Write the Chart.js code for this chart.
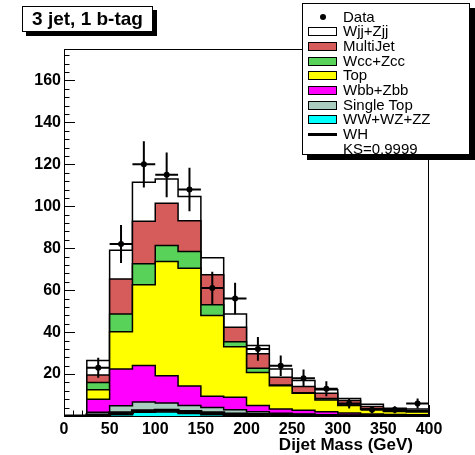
<!DOCTYPE html>
<html>
<head>
<meta charset="utf-8">
<script src="https://cdn.jsdelivr.net/npm/chart.js@4.4.0/dist/chart.umd.min.js"></script>
<style>
  html, body { margin: 0; padding: 0; background: #fff; }
  #wrap { position: relative; width: 475px; height: 455px; font-family: "Liberation Sans", Arial, Helvetica, sans-serif; color: #000; }
  #c { position: absolute; left: 0; top: 0; }
  #title { position: absolute; left: 22px; top: 6px; width: 129px; height: 24px; border: 1px solid #000; background: #fff;
           box-shadow: 4px 4px 0 #000; font-weight: bold; font-size: 19px; line-height: 24px; text-align: center; white-space: nowrap; }
  #legend { position: absolute; left: 302px; top: 3px; width: 166px; height: 150px; border: 1px solid #000; background: #fff;
            box-shadow: 5px 5px 0 #000; }
  .sw { position: absolute; box-sizing: border-box; }
  .lt { position: absolute; left: 40px; font-size: 15px; line-height: 16px; white-space: nowrap; }
</style>
</head>
<body>
<div id="wrap">
  <canvas id="c" width="475" height="455"></canvas>
  <div id="title">3 jet, 1 b-tag</div>
  <div id="legend"></div>
</div>
<script>
// Dijet mass bins (lower edges, GeV) and bin width
const binLow = [0, 25, 50, 75, 100, 125, 150, 175, 200, 225, 250, 275, 300, 325, 350, 375];
const binWidth = 25;

// Expected events per bin for each process
const wjjZjj    = [0, 7.0, 13.7, 18.6, 11.5, 11.6, 8.2, 6.3, 3.9, 3.9, 2.8, 1.7, 1.0, 1.1, 0.7, 0.7];
const multiJet  = [0, 3.5, 16.7, 20.3, 20.2, 14.7, 14.3, 6.9, 6.9, 3.7, 3.0, 2.5, 2.1, 1.0, 0.6, 0.5];
const wccZcc    = [0, 3.5, 8.4, 10.0, 7.6, 7.9, 5.1, 2.4, 2.0, 0.4, 0.3, 0.7, 0.3, 0.3, 0.2, 0.2];
const topQuark  = [0, 4.5, 17.8, 38.5, 54.5, 56.2, 38.5, 24.0, 15.8, 11.1, 8.0, 5.6, 3.6, 2.2, 1.5, 1.3];
const wbbZbb    = [0, 6.2, 17.5, 17.4, 13.0, 9.3, 5.4, 6.0, 3.0, 2.0, 1.9, 1.4, 1.0, 0.7, 0.5, 0.4];
const singleTop = [0, 1.6, 4.3, 4.9, 4.3, 3.8, 3.4, 2.6, 1.7, 1.1, 0.8, 0.5, 0.3, 0.25, 0.15, 0.15];
const diboson   = [0, 0.2, 0.6, 1.8, 1.9, 1.2, 0.6, 0.4, 0.3, 0.2, 0.1, 0.1, 0.1, 0.05, 0.05, 0.05];
const whSignal  = [0, 0.5, 1.5, 2.5, 2.8, 2.2, 1.5, 1.0, 0.7, 0.5, 0.3, 0.2, 0.1, 0.1, 0.1, 0.1];

// Observed events and their uncertainties (first bin empty)
const dataCounts = [null, 23, 82, 120, 115, 108, 61, 56, 32, 24, 18, 13, 6, 3, 3, 6];
const dataErrors = [null, 4.8, 9.1, 11.0, 10.7, 10.4, 7.8, 7.5, 5.7, 4.9, 4.2, 3.6, 2.4, 1.7, 1.7, 2.4];

// Axis ticks
const xTickStep = 50;
const yTickStep = 20;
const ksLabel = 'KS=0.9999';

// Stack from bottom to top
const layers = [
  { label: 'WW+WZ+ZZ',   values: diboson,   color: '#00ffff' },
  { label: 'Single Top', values: singleTop, color: '#a9cdbf' },
  { label: 'Wbb+Zbb',    values: wbbZbb,    color: '#ff00ff' },
  { label: 'Top',        values: topQuark,  color: '#ffff00' },
  { label: 'Wcc+Zcc',    values: wccZcc,    color: '#58d258' },
  { label: 'MultiJet',   values: multiJet,  color: '#d65b5b' },
  { label: 'Wjj+Zjj',    values: wjjZjj,    color: '#ffffff' }
];

// Histogram outline: one point per lower edge, closed at the upper edge
function stepPoints(values) {
  const pts = values.map((v, i) => ({ x: binLow[i], y: v }));
  pts.push({ x: binLow[binLow.length - 1] + binWidth, y: 0 });
  return pts;
}

let running = binLow.map(() => 0);
const stackSets = layers.map((layer, k) => {
  running = running.map((s, i) => s + layer.values[i]);
  return {
    type: 'line', label: layer.label, data: stepPoints(running), stepped: 'before',
    fill: 'origin', backgroundColor: layer.color, borderColor: '#000', borderWidth: 1.5,
    pointRadius: 0, order: 2 + k
  };
});

const whSet = {
  type: 'line', label: 'WH', data: stepPoints(whSignal), stepped: 'before', fill: false,
  borderColor: '#000', borderWidth: 3, pointRadius: 0, order: 1
};

const dataSet = {
  type: 'scatter', label: 'Data',
  data: dataCounts.map((v, i) => v == null ? null : { x: binLow[i] + binWidth / 2, y: v, err: dataErrors[i] })
                  .filter(p => p !== null),
  pointRadius: 3, pointHoverRadius: 3, backgroundColor: '#000', borderColor: '#000', borderWidth: 0,
  showLine: false, order: 0
};

// Inner tick marks, frame, error bars and axis title
const histDecor = {
  id: 'histDecor',
  beforeDatasetsDraw(chart) {
    const { ctx, chartArea: a, scales: { x, y } } = chart;
    ctx.save();
    ctx.strokeStyle = '#000';
    ctx.lineWidth = 1;
    ctx.beginPath();
    for (let v = 0; v <= y.max; v += 4) {
      const py = Math.round(y.getPixelForValue(v)) + 0.5;
      const len = v % yTickStep === 0 ? 11 : 5.5;
      ctx.moveTo(a.left, py); ctx.lineTo(a.left + len, py);
    }
    for (let v = 0; v <= x.max; v += 10) {
      const px = Math.round(x.getPixelForValue(v)) + 0.5;
      const len = v % xTickStep === 0 ? 11 : 5.5;
      ctx.moveTo(px, a.bottom); ctx.lineTo(px, a.bottom - len);
    }
    ctx.stroke();
    ctx.restore();
  },
  afterDatasetsDraw(chart) {
    const { ctx, chartArea: a, scales: { x, y } } = chart;
    ctx.save();
    ctx.strokeStyle = '#000';
    ctx.lineWidth = 1;
    ctx.strokeRect(a.left + 0.5, a.top + 0.5, a.right - a.left - 1, a.bottom - a.top);
    // error bars
    const ds = chart.data.datasets.find(d => d.label === 'Data');
    ctx.lineWidth = 2;
    ctx.beginPath();
    ds.data.forEach(p => {
      const px = x.getPixelForValue(p.x), py = y.getPixelForValue(p.y);
      ctx.moveTo(px, y.getPixelForValue(p.y - p.err));
      ctx.lineTo(px, y.getPixelForValue(p.y + p.err));
      ctx.moveTo(x.getPixelForValue(p.x - binWidth / 2), py);
      ctx.lineTo(x.getPixelForValue(p.x + binWidth / 2), py);
    });
    ctx.stroke();
    ctx.restore();
  },
  afterDraw(chart) {
    const { ctx, chartArea: a } = chart;
    ctx.save();
    ctx.fillStyle = '#000';
    ctx.font = 'bold 17px "Liberation Sans", Arial, sans-serif';
    ctx.textAlign = 'right';
    ctx.textBaseline = 'alphabetic';
    ctx.fillText('Dijet Mass (GeV)', a.right - 16, 450);
    ctx.restore();
  }
};

Chart.defaults.font.family = '"Liberation Sans", Arial, Helvetica, sans-serif';
Chart.defaults.color = '#000';

const chart = new Chart(document.getElementById('c'), {
  type: 'line',
  data: { datasets: [dataSet, whSet, ...stackSets] },
  options: {
    responsive: false,
    animation: false,
    devicePixelRatio: 1,
    layout: { padding: { top: 49, right: 46, left: 0, bottom: 0 } },
    plugins: { legend: { display: false }, tooltip: { enabled: false } },
    scales: {
      x: {
        type: 'linear', min: 0, max: 400,
        grid: { display: false, drawTicks: false },
        border: { display: true, color: '#000', width: 1 },
        ticks: { stepSize: xTickStep, autoSkip: false, maxRotation: 0, padding: 4,
                 font: { size: 16, weight: 'bold' }, color: '#000' },
        afterFit(s) { s.height = 39; }
      },
      y: {
        type: 'linear', min: 0, max: 175,
        grid: { display: false, drawTicks: false },
        border: { display: true, color: '#000', width: 1 },
        ticks: { stepSize: yTickStep, includeBounds: false, padding: 3,
                 font: { size: 16, weight: 'bold' }, color: '#000',
                 callback: v => (v > 0 && v % yTickStep === 0) ? String(v) : '' },
        afterFit(s) { s.width = 64; }
      }
    }
  },
  plugins: [histDecor]
});

// Legend built from the chart's datasets
(function buildLegend() {
  const box = document.getElementById('legend');
  const byLabel = {};
  chart.data.datasets.forEach(d => { byLabel[d.label] = d; });
  const entries = [{ label: 'Data', kind: 'marker' }]
    .concat(layers.slice().reverse().map(l => ({ label: l.label, kind: 'box' })))
    .concat([{ label: 'WH', kind: 'line' }, { label: ksLabel, kind: 'text' }]);
  entries.forEach((e, i) => {
    const cy = 12.5 + i * 14.7;
    if (e.kind === 'marker') {
      const m = document.createElement('div');
      m.className = 'sw';
      Object.assign(m.style, { left: '17px', top: (cy - 3) + 'px', width: '6px', height: '6px', borderRadius: '50%', background: '#000' });
      box.appendChild(m);
    } else if (e.kind === 'box') {
      const m = document.createElement('div');
      m.className = 'sw';
      Object.assign(m.style, { left: '5px', top: (cy - 4) + 'px', width: '29px', height: '9px',
        border: '1.5px solid #000', background: byLabel[e.label].backgroundColor });
      box.appendChild(m);
    } else if (e.kind === 'line') {
      const m = document.createElement('div');
      m.className = 'sw';
      Object.assign(m.style, { left: '5px', top: (cy - 1.5) + 'px', width: '29px', height: '3px', background: '#000' });
      box.appendChild(m);
    }
    const t = document.createElement('div');
    t.className = 'lt';
    t.style.top = (cy - 8) + 'px';
    t.textContent = e.label;
    box.appendChild(t);
  });
})();
</script>
</body>
</html>
